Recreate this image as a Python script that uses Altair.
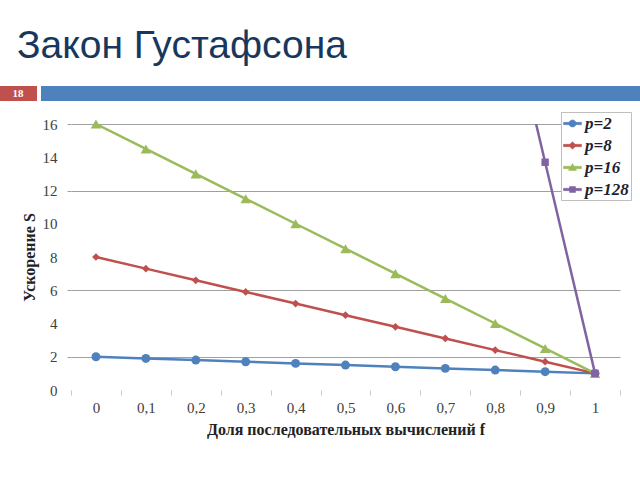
import altair as alt
import pandas as pd

# ---- data ----
f_labels = ["0", "0,1", "0,2", "0,3", "0,4", "0,5", "0,6", "0,7", "0,8", "0,9", "1"]
s_p2 = [2, 1.9, 1.8, 1.7, 1.6, 1.5, 1.4, 1.3, 1.2, 1.1, 1]
s_p8 = [8, 7.3, 6.6, 5.9, 5.2, 4.5, 3.8, 3.1, 2.4, 1.7, 1]
s_p16 = [16, 14.5, 13, 11.5, 10, 8.5, 7, 5.5, 4, 2.5, 1]
s_p128 = [128, 115.3, 102.6, 89.9, 77.2, 64.5, 51.8, 39.1, 26.4, 13.7, 1]
series_names = ["p=2", "p=8", "p=16", "p=128"]
y_ticks = [0, 2, 4, 6, 8, 10, 12, 14, 16]

slide_title = "Закон Густафсона"
slide_number = "18"
x_title = "Доля последовательных вычислений f"
y_title = "Ускорение S"

colors = ["#4F81BD", "#C0504D", "#9BBB59", "#8064A2"]
shapes = ["circle", "diamond", "triangle-up", "square"]
marker_sizes = [80, 60, 110, 55]
_bar = "M-1,-0.13H1V0.13H-1Z"
legend_paths = [
    _bar + "M-0.4,0A0.4,0.4,0,1,1,0.4,0A0.4,0.4,0,1,1,-0.4,0Z",
    _bar + "M0,-0.42L0.42,0L0,0.42L-0.42,0Z",
    _bar + "M0,-0.45L0.45,0.32L-0.45,0.32Z",
    _bar + "M-0.33,-0.33H0.33V0.33H-0.33Z",
]

rows = []
for name, vals in zip(series_names, [s_p2, s_p8, s_p16, s_p128]):
    for f, s in zip(f_labels, vals):
        rows.append({"f": f, "S": s, "series": name})
df = pd.DataFrame(rows)

W, H = 549, 266
serif = "Liberation Serif"

shape_expr = " : ".join(
    f"datum.value === '{n}' ? '{p}'" for n, p in zip(series_names[:-1], legend_paths[:-1])
) + f" : '{legend_paths[-1]}'"
color_expr = " : ".join(
    f"datum.value === '{n}' ? '{c}'" for n, c in zip(series_names[:-1], colors[:-1])
) + f" : '{colors[-1]}'"

x_enc = alt.X(
    "f:N",
    sort=f_labels,
    bandPosition=0.5,
    scale=alt.Scale(type="band", paddingInner=0, paddingOuter=0),
    axis=alt.Axis(
        title=x_title,
        labelAngle=0,
        labelFont=serif,
        labelFontSize=15,
        labelColor="#404040",
        labelPadding=5,
        titleFont=serif,
        titleFontSize=16,
        titleFontWeight="bold",
        titleColor="#222222",
        titlePadding=6,
        domain=False,
        tickBand="extent",
        tickSize=5,
        tickColor="#C8C8C8",
        grid=False,
    ),
)
y_enc = alt.Y(
    "S:Q",
    scale=alt.Scale(domain=[0, 16], nice=False, zero=True),
    axis=alt.Axis(
        title=y_title,
        values=y_ticks,
        labelFont=serif,
        labelFontSize=15,
        labelColor="#404040",
        labelPadding=10,
        titleFont=serif,
        titleFontSize=16,
        titleFontWeight="bold",
        titleColor="#222222",
        titlePadding=5,
        domain=False,
        tickSize=4,
        tickColor="#A0A0A0",
        tickOpacity={"condition": {"test": "indexof([2,6,12,16], datum.value) >= 0", "value": 1}, "value": 0},
        grid=True,
        gridColor="#A0A0A0",
        gridOpacity={"condition": {"test": "indexof([2,6,12,16], datum.value) >= 0", "value": 1}, "value": 0},
    ),
)

legend = alt.Legend(
    title=None,
    orient="none",
    legendX=490,
    legendY=-12,
    symbolSize=324,
    symbolStrokeWidth=0.5,
    symbolType={"expr": shape_expr},
    symbolFillColor={"expr": color_expr},
    symbolStrokeColor={"expr": color_expr},
    symbolOpacity=1,
    labelFont=serif,
    labelFontSize=17,
    labelFontStyle="italic",
    labelFontWeight="bold",
    labelColor="#1F1F2F",
    labelOffset=3,
    rowPadding=4,
    padding=2,
    fillColor="white",
    strokeColor="#BFBFBF",
)

color_scale = alt.Scale(domain=series_names, range=colors)

base = alt.Chart(df)

lines = base.mark_line(clip=True, strokeWidth=2.5).encode(
    x=x_enc, y=y_enc, color=alt.Color("series:N", scale=color_scale, legend=legend)
)

point_layers = []
for name, col, shp, sz in zip(series_names, colors, shapes, marker_sizes):
    point_layers.append(
        base.transform_filter(f"datum.series === '{name}' && datum.S <= 16.5")
        .mark_point(filled=True, opacity=1, shape=shp, size=sz, color=col)
        .encode(x=x_enc, y=y_enc)
    )

one = pd.DataFrame({"t": [slide_title], "n": [slide_number]})
red_box = alt.Chart(one).mark_rect(color="#C0504D").encode(
    x=alt.value(-71), x2=alt.value(-34), y=alt.value(-38), y2=alt.value(-23)
)
blue_bar = alt.Chart(one).mark_rect(color="#4F81BD").encode(
    x=alt.value(-30), x2=alt.value(569), y=alt.value(-38), y2=alt.value(-23)
)
num_text = alt.Chart(one).mark_text(
    font=serif, fontSize=11, fontWeight="bold", color="white", align="center", baseline="middle"
).encode(x=alt.value(-53), y=alt.value(-30), text="n:N")
title_text = alt.Chart(one).mark_text(
    font="Liberation Sans", fontSize=39, color="#17375E", align="left", baseline="alphabetic"
).encode(x=alt.value(-54), y=alt.value(-66), text="t:N")

chart = (
    alt.layer(red_box, blue_bar, num_text, title_text, lines, *point_layers)
    .properties(
        width=W,
        height=H,
        autosize=alt.AutoSizeParams(type="none"),
        padding={"left": 71, "top": 124, "right": 20, "bottom": 90},
        background="white",
    )
    .configure_view(stroke=None)
)

chart.save("out.html", embed_options={"renderer": "svg", "actions": False})
